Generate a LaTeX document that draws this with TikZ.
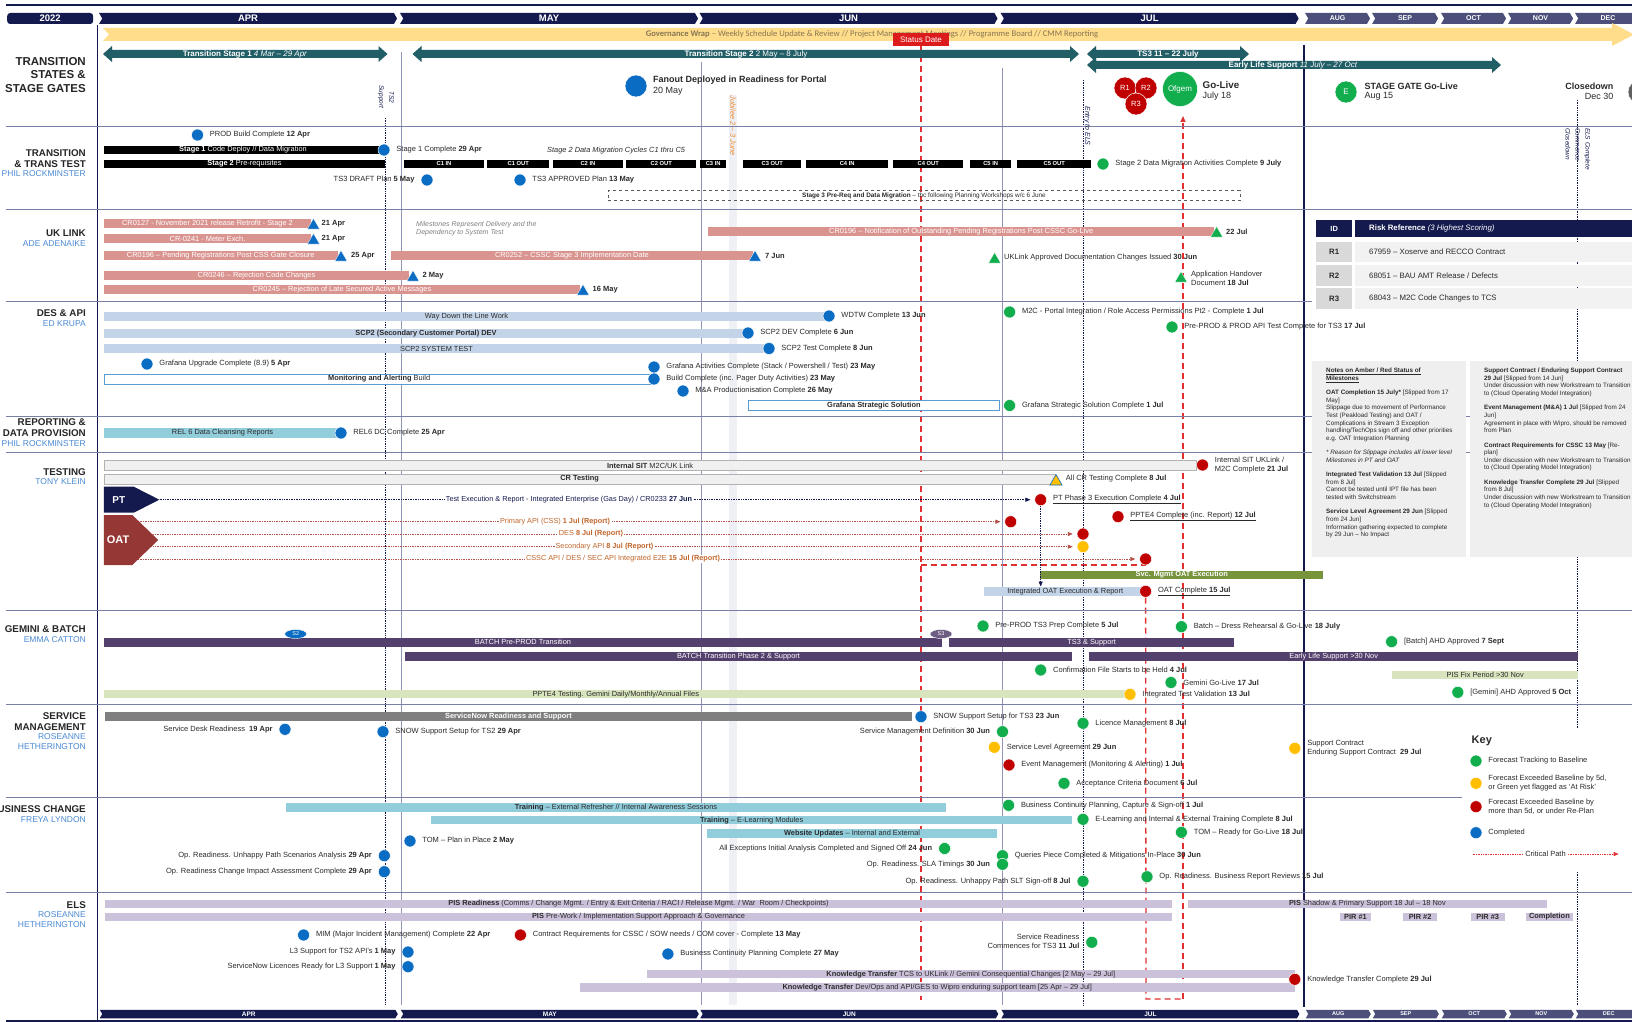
\documentclass[tikz,border=0pt]{standalone}
\usepackage{fontspec}
\setmainfont{Liberation Sans}
\newfontfamily\carl{Carlito}
\usetikzlibrary{shapes.geometric,shapes.symbols,arrows.meta,calc}
\pgfdeclarelayer{bg}\pgfdeclarelayer{back}\pgfsetlayers{bg,back,main}
\definecolor{navyc}{HTML}{141A4E}
\definecolor{slatec}{HTML}{4B4F7A}
\definecolor{gridc}{HTML}{9094B8}
\definecolor{sepc}{HTML}{7A7FA8}
\definecolor{tealc}{HTML}{215E66}
\definecolor{govc}{HTML}{FFDD8A}
\definecolor{govt}{HTML}{857552}
\definecolor{salmon}{HTML}{DA9490}
\definecolor{bluem}{HTML}{0A6CC2}
\definecolor{greenm}{HTML}{12AE4E}
\definecolor{amberm}{HTML}{FFBF00}
\definecolor{redm}{HTML}{C00000}
\definecolor{lblue}{HTML}{C3D3E8}
\definecolor{outblue}{HTML}{5B9BD5}
\definecolor{tealbar}{HTML}{92CDDC}
\definecolor{purp}{HTML}{53406C}
\definecolor{lgreen}{HTML}{D7E4BD}
\definecolor{lav}{HTML}{CCC1DA}
\definecolor{grayb}{HTML}{7F7F7F}
\definecolor{olive}{HTML}{77933C}
\definecolor{personc}{HTML}{4A8AD4}
\definecolor{orangt}{HTML}{C0652A}
\definecolor{jubt}{HTML}{EE8A2E}
\definecolor{oatc}{HTML}{953735}
\definecolor{oatl}{HTML}{B5504A}
\definecolor{statusc}{HTML}{DC1C1C}
\definecolor{critred}{HTML}{E03030}
\definecolor{txtc}{HTML}{2A2A2A}
\definecolor{notebg}{HTML}{EFEFEF}
\definecolor{sitgray}{HTML}{F0F0F0}
\definecolor{jubc}{HTML}{EEF0F5}
\definecolor{idgray}{HTML}{D9D9D9}
\definecolor{rowgray}{HTML}{F2F2F2}
\newcommand\mybar[7]{\node[barb,#1,minimum width={(#3)-(#2)},minimum height={(#5)-(#4)}] (#6) at (#2,{((#4)+(#5))/2}) {#7};}
\newcommand\mkr[5]{\node[mc,fill=#2] (#1) at (#3,#4) {};\node[mt,anchor=west] (#1t) at ([xshift=6pt]#1.east) {#5};}
\newcommand\mkl[5]{\node[mc,fill=#2] (#1) at (#3,#4) {};\node[mt,anchor=east] (#1t) at ([xshift=-6pt]#1.west) {#5};}
\newcommand\mytri[4]{\node[tri,fill=#2] (#1) at (#3,{(#4)-3.5}) {};}
\newcommand\dblarr[3]{\fill[tealc] (#1,#3) -- ({#1+9},{#3-8}) -- ({#1+9},{#3-4}) -- ({#2-9},{#3-4}) -- ({#2-9},{#3-8}) -- (#2,#3) -- ({#2-9},{#3+8}) -- ({#2-9},{#3+4}) -- ({#1+9},{#3+4}) -- ({#1+9},{#3+8}) -- cycle;}
\begin{document}
\begin{tikzpicture}[x=1pt,y=-1pt,
 mt/.style={font=\fontsize{7.5}{8.6}\selectfont, text=txtc, inner sep=0pt, align=left},
 mc/.style={circle, minimum size=12pt, inner sep=0pt, draw=white, line width=0.5pt},
 barb/.style={rectangle, inner sep=0pt, anchor=west, font=\fontsize{7.4}{8}\selectfont},
 blk/.style={fill=black, text=white},
 cyc/.style={fill=black, text=white, font=\bfseries\fontsize{5.8}{6}\selectfont},
 sal/.style={fill=salmon, text=white},
 lb/.style={fill=lblue, text=txtc},
 tb/.style={fill=tealbar, text=txtc},
 pb/.style={fill=purp, text=white},
 lgb/.style={fill=lgreen, text=txtc},
 lavb/.style={fill=lav, text=txtc},
 gb/.style={fill=grayb, text=white},
 olb/.style={fill=olive, text=white, font=\bfseries\fontsize{7.4}{8}\selectfont},
 outl/.style={fill=white, draw=outblue, line width=0.8pt, text=txtc},
 sit/.style={fill=sitgray, draw=gray!60, line width=0.6pt, text=txtc},
 tri/.style={regular polygon, regular polygon sides=3, minimum size=14pt, inner sep=0pt, draw=white, line width=0.3pt},
 gridl/.style={draw=gridc, line width=0.8pt},
 sepl/.style={draw=sepc, line width=0.9pt},
 vdot/.style={draw=navyc, densely dotted, line width=0.7pt},
 crit/.style={draw=critred, line width=1.3pt, dash pattern=on 6pt off 4pt},
 rl/.style={font=\bfseries\fontsize{9.8}{11}\selectfont, anchor=east, inner sep=0pt, text=black!85},
 pl/.style={font=\fontsize{8.5}{10}\selectfont, anchor=east, inner sep=0pt, text=personc},
 arrt/.style={font=\bfseries\fontsize{8}{9}\selectfont, text=white, inner sep=0pt},
 mon/.style={signal, signal to=east, signal from=west, signal pointer angle=120, inner sep=0pt, text=white, font=\bfseries\fontsize{9.5}{10}\selectfont, anchor=west},
 monb/.style={mon, font=\bfseries\fontsize{6.5}{7}\selectfont},
 ptline/.style={draw=navyc, densely dotted, line width=0.7pt, -{Triangle[length=5pt,width=4pt]}},
 oatline/.style={draw=oatl, densely dotted, line width=0.7pt, -{Triangle[length=5pt,width=4pt]}},
 oatlbl/.style={fill=white, inner xsep=1pt, inner ysep=0.5pt, font=\fontsize{7.3}{8}\selectfont, text=orangt},
 notes/.style={font=\fontsize{6.3}{7.6}\selectfont, text=txtc, align=left, inner sep=0pt, anchor=north west},
 rott/.style={rotate=-90, inner sep=0pt, text=navyc, font=\itshape\fontsize{6.5}{10}\selectfont}
]
\useasboundingbox (0,0) rectangle (1632,1022);
\begin{pgfonlayer}{bg}
\fill[white] (0,0) rectangle (1632,1022);
\fill[jubc] (729,95) rectangle (737,1005);
\end{pgfonlayer}

% ---------- frame lines ----------
\draw[navyc, line width=2pt] (6,5) -- (1632,5);
\draw[navyc, line width=2pt] (6,1021) -- (1632,1021);
\draw[navyc, line width=0.8pt] (97.5,25) -- (97.5,1022);
\draw[gridl] (401,52) -- (401,1005);
\draw[gridl] (701,62) -- (701,1005);
\draw[gridl] (1002,68) -- (1002,1005);
\draw[vdot] (385,118) -- (385,1005);
\draw[vdot] (1083,80) -- (1083,1005);
\draw[vdot] (1577,100) -- (1577,1005);
\draw[navyc, line width=2.2pt] (1304,45) -- (1304,1007);
\foreach \yy in {126,209,416,452,610,704,892} {\draw[sepl] (6,\yy) -- (1632,\yy);}
\draw[sepl] (6,301) -- (1312,301);
\draw[sepl] (6,797) -- (1462,797);

% ---------- month headers ----------
\node[fill=navyc, rounded corners=3pt, minimum width=86pt, minimum height=11pt, inner sep=0pt, anchor=west, text=white, font=\bfseries\fontsize{9.5}{10}\selectfont] (y2022) at (7,18.5) {2022};
\node[mon, fill=navyc, minimum width=298pt, minimum height=11pt] (mapr) at (102,18.5) {APR};
\node[mon, fill=navyc, minimum width=298pt, minimum height=11pt] (mmay) at (403,18.5) {MAY};
\node[mon, fill=navyc, minimum width=298pt, minimum height=11pt] (mjun) at (702.5,18.5) {JUN};
\node[mon, fill=navyc, minimum width=298pt, minimum height=11pt] (mjul) at (1003.6,18.5) {JUL};
\node[mon, fill=slatec, minimum width=65pt, minimum height=11pt, font=\bfseries\fontsize{7}{8}\selectfont] (maug) at (1308,18.5) {AUG};
\node[mon, fill=slatec, minimum width=66pt, minimum height=11pt, font=\bfseries\fontsize{7}{8}\selectfont] (msep) at (1375,18.5) {SEP};
\node[mon, fill=slatec, minimum width=65pt, minimum height=11pt, font=\bfseries\fontsize{7}{8}\selectfont] (moct) at (1444,18.5) {OCT};
\node[mon, fill=slatec, minimum width=65pt, minimum height=11pt, font=\bfseries\fontsize{7}{8}\selectfont] (mnov) at (1511,18.5) {NOV};
\node[mon, fill=slatec, minimum width=66pt, minimum height=11pt, font=\bfseries\fontsize{7}{8}\selectfont] (mdec) at (1578,18.5) {DEC};
\node[monb, fill=navyc, minimum width=298pt, minimum height=8.5pt] (bapr) at (102,1014) {APR};
\node[monb, fill=navyc, minimum width=298pt, minimum height=8.5pt] (bmay) at (403,1014) {MAY};
\node[monb, fill=navyc, minimum width=298pt, minimum height=8.5pt] (bjun) at (702.5,1014) {JUN};
\node[monb, fill=navyc, minimum width=298pt, minimum height=8.5pt] (bjul) at (1003.6,1014) {JUL};
\node[monb, fill=slatec, minimum width=65pt, minimum height=8.5pt, font=\bfseries\fontsize{5.5}{6}\selectfont] (baug) at (1308,1014) {AUG};
\node[monb, fill=slatec, minimum width=66pt, minimum height=8.5pt, font=\bfseries\fontsize{5.5}{6}\selectfont] (bsep) at (1375,1014) {SEP};
\node[monb, fill=slatec, minimum width=65pt, minimum height=8.5pt, font=\bfseries\fontsize{5.5}{6}\selectfont] (boct) at (1444,1014) {OCT};
\node[monb, fill=slatec, minimum width=65pt, minimum height=8.5pt, font=\bfseries\fontsize{5.5}{6}\selectfont] (bnov) at (1511,1014) {NOV};
\node[monb, fill=slatec, minimum width=66pt, minimum height=8.5pt, font=\bfseries\fontsize{5.5}{6}\selectfont] (bdec) at (1578,1014) {DEC};

% ---------- row labels ----------
\node[rl, font=\bfseries\fontsize{11.5}{13}\selectfont] (l1a) at (86,62) {TRANSITION};
\node[rl, font=\bfseries\fontsize{11.5}{13}\selectfont] (l1b) at (86,75) {STATES \&};
\node[rl, font=\bfseries\fontsize{11.5}{13}\selectfont] (l1c) at (86,89) {STAGE GATES};
\node[rl] (l2a) at (86,153) {TRANSITION};
\node[rl] (l2b) at (86,164) {\& TRANS TEST};
\node[pl] (l2c) at (86,174) {PHIL ROCKMINSTER};
\node[rl] (l3a) at (86,233.5) {UK LINK};
\node[pl] (l3b) at (86,244) {ADE ADENAIKE};
\node[rl] (l4a) at (86,313) {DES \& API};
\node[pl] (l4b) at (86,324) {ED KRUPA};
\node[rl] (l5a) at (86,422) {REPORTING \&};
\node[rl] (l5b) at (86,433) {DATA PROVISION};
\node[pl] (l5c) at (86,444) {PHIL ROCKMINSTER};
\node[rl] (l6a) at (86,472) {TESTING};
\node[pl] (l6b) at (86,482) {TONY KLEIN};
\node[rl] (l7a) at (86,629) {GEMINI \& BATCH};
\node[pl] (l7b) at (86,640) {EMMA CATTON};
\node[rl] (l8a) at (86,716) {SERVICE};
\node[rl] (l8b) at (86,727) {MANAGEMENT};
\node[pl] (l8c) at (86,737) {ROSEANNE};
\node[pl] (l8d) at (86,747) {HETHERINGTON};
\node[rl] (l9a) at (86,809) {BUSINESS CHANGE};
\node[pl] (l9b) at (86,820) {FREYA LYNDON};
\node[rl] (l10a) at (86,905) {ELS};
\node[pl] (l10b) at (86,915) {ROSEANNE};
\node[pl] (l10c) at (86,925) {HETHERINGTON};

% ---------- row 1 : transition states ----------
\fill[govc] (103,28) -- (1612,28) -- (1612,23) -- (1634,34.5) -- (1612,46) -- (1612,41) -- (103,41) -- (109,34.5) -- cycle;
\node[font=\carl\fontsize{8.6}{9}\selectfont, text=govt, inner sep=0pt] (gov) at (872,34.5) {\textbf{Governance Wrap} – Weekly Schedule Update \& Review // Project Management Meetings // Programme Board // CMM Reporting};
\node[fill=statusc, text=white, font=\fontsize{8}{9}\selectfont, minimum width=56pt, minimum height=13pt, inner sep=0pt] (status) at (921,39.5) {Status Date};
\dblarr{103}{387.5}{54}
\dblarr{412.5}{1079}{54}
\dblarr{1087}{1501}{65}
\dblarr{1087}{1249}{54}
\node[arrt] (ts1) at (245,54) {Transition Stage 1 \textit{\mdseries 4 Mar – 29 Apr}};
\node[arrt] (ts2) at (746,54) {Transition Stage 2 \mdseries 2 May – 8 July};
\node[arrt] (ts3) at (1168,54) {TS3 11 – 22 July};
\node[arrt] (elsa) at (1293,65) {Early Life Support \textit{\mdseries 11 July – 27 Oct}};
\node[mc, fill=bluem, minimum size=22pt] (fan) at (636,86) {};
\node[inner sep=0pt, anchor=west, font=\bfseries\fontsize{9}{10}\selectfont, text=txtc] (fant) at (653,80.5) {Fanout Deployed in Readiness for Portal};
\node[inner sep=0pt, anchor=west, font=\fontsize{9}{10}\selectfont, text=txtc] (fand) at (653,91) {20 May};
\node[rotate=-90, inner sep=0pt, text=jubt, font=\itshape\fontsize{7.4}{8}\selectfont] (jub) at (733,126) {Jubilee 2 – 3 June};
\node[rott, align=center] (ts2s) at (386,97) {TS2\\Support};
\node[rott, font=\itshape\fontsize{7}{8}\selectfont] (entry) at (1087,126) {Entry to ELS};
\node[rott, align=left] (elsc) at (1578,149) {ELS Complete\\Commence\\Closedown};
\node[mc, fill=redm, minimum size=22pt, text=white, font=\fontsize{7.5}{8}\selectfont] (r1) at (1125,88) {R1};
\node[mc, fill=redm, minimum size=22pt, text=white, font=\fontsize{7.5}{8}\selectfont] (r2) at (1146,88) {R2};
\node[mc, fill=redm, minimum size=22pt, text=white, font=\fontsize{7.5}{8}\selectfont] (r3) at (1136,104) {R3};
\node[mc, fill=greenm, minimum size=35pt, text=white, font=\fontsize{8}{9}\selectfont] (ofgem) at (1180,89) {Ofgem};
\node[inner sep=0pt, anchor=west, font=\bfseries\fontsize{9.8}{11}\selectfont, text=txtc] (golive) at (1202.5,85) {Go-Live};
\node[inner sep=0pt, anchor=west, font=\fontsize{9}{10}\selectfont, text=txtc] (golived) at (1202.5,96) {July 18};
\node[mc, fill=greenm, minimum size=22pt, text=white, font=\fontsize{8}{9}\selectfont] (egate) at (1346,92) {E};
\node[inner sep=0pt, anchor=west, font=\bfseries\fontsize{9}{10}\selectfont, text=txtc] (sgate) at (1364.5,86) {STAGE GATE Go-Live};
\node[inner sep=0pt, anchor=west, font=\fontsize{9}{10}\selectfont, text=txtc] (sgated) at (1364.5,96) {Aug 15};
\node[inner sep=0pt, anchor=east, font=\bfseries\fontsize{9}{10}\selectfont, text=txtc] (clos) at (1613.5,86) {Closedown};
\node[inner sep=0pt, anchor=east, font=\fontsize{9}{10}\selectfont, text=txtc] (closd) at (1613.5,96) {Dec 30};
\node[mc, fill=gray!75!black, minimum size=24pt, text=white, font=\fontsize{8}{9}\selectfont] (fgate) at (1640,92) {F};

% ---------- row 2 : transition & trans test ----------
\mkr{prod}{bluem}{197.5}{135}{PROD Build Complete \textbf{12 Apr}}
\mybar{blk}{103.6}{382}{146}{154}{s1bar}{\textbf{Stage 1} Code Deploy // Data Migration}
\mkr{s1c}{bluem}{384}{150}{Stage 1 Complete \textbf{29 Apr}}
\mybar{blk}{103.6}{385}{160}{168}{s2bar}{\textbf{Stage 2} Pre-requisites}
\mybar{cyc}{403.6}{484}{160}{168}{c1in}{C1 IN}
\mybar{cyc}{487}{549}{160}{168}{c1out}{C1 OUT}
\mybar{cyc}{552.5}{623}{160}{168}{c2in}{C2 IN}
\mybar{cyc}{626}{696}{160}{168}{c2out}{C2 OUT}
\mybar{cyc}{700}{726}{160}{168}{c3in}{C3 IN}
\mybar{cyc}{743}{801}{160}{168}{c3out}{C3 OUT}
\mybar{cyc}{806}{888}{160}{168}{c4in}{C4 IN}
\mybar{cyc}{893}{963}{160}{168}{c4out}{C4 OUT}
\mybar{cyc}{970}{1011}{160}{168}{c5in}{C5 IN}
\mybar{cyc}{1017}{1091}{160}{168}{c5out}{C5 OUT}
\node[mt, anchor=west, font=\itshape\fontsize{7.4}{8}\selectfont] (s2dm) at (547,151) {Stage 2 Data Migration Cycles C1 thru C5};
\mkr{s2c}{greenm}{1103}{164}{Stage 2 Data Migration Activities Complete \textbf{9 July}}
\mkl{ts3d}{bluem}{427}{180}{TS3 DRAFT Plan \textbf{5 May}}
\mkr{ts3a}{bluem}{520}{180}{TS3 APPROVED Plan \textbf{13 May}}
\node[draw=gray!70!black, dashed, line width=0.6pt, minimum width=632pt, minimum height=10pt, anchor=west, inner sep=0pt] (s3box) at (608,195.5) {};
\node[mt, font=\fontsize{6.4}{7}\selectfont] (s3t) at (924,195.5) {\textbf{Stage 3 Pre-Req and Data Migration} – tbc following Planning Workshops w/c 6 June};

% ---------- row 3 : UK link ----------
\mybar{sal}{103.6}{311}{219}{228}{cr0127}{CR0127 - November 2021 release Retrofit - Stage 2}
\mytri{t1}{bluem}{313.5}{229}
\node[mt, anchor=west, font=\bfseries\fontsize{7.5}{8}\selectfont] (t1t) at (321.5,224) {21 Apr};
\mybar{sal}{103.6}{311}{234}{243}{cr0241}{CR-0241 - Meter Exch.}
\mytri{t2}{bluem}{313.5}{244}
\node[mt, anchor=west, font=\bfseries\fontsize{7.5}{8}\selectfont] (t2t) at (321.5,239) {21 Apr};
\mybar{sal}{103.6}{337.5}{251}{260}{cr0196a}{CR0196 –  Pending Registrations Post CSS Gate Closure}
\mytri{t3}{bluem}{341}{261}
\node[mt, anchor=west, font=\bfseries\fontsize{7.5}{8}\selectfont] (t3t) at (351,256) {25 Apr};
\mybar{sal}{391}{752.5}{251}{260}{cr0252}{CR0252 – CSSC Stage 3 Implementation Date}
\mytri{t4}{bluem}{755}{261}
\node[mt, anchor=west, font=\bfseries\fontsize{7.5}{8}\selectfont] (t4t) at (765,256) {7 Jun};
\mybar{sal}{103.6}{409}{271}{280}{cr0246}{CR0246 – Rejection Code Changes}
\mytri{t5}{bluem}{413}{281}
\node[mt, anchor=west, font=\bfseries\fontsize{7.5}{8}\selectfont] (t5t) at (422.5,276) {2 May};
\mybar{sal}{103.6}{580}{285}{294}{cr0245}{CR0245 – Rejection of Late Secured Active Messages}
\mytri{t6}{bluem}{583}{295}
\node[mt, anchor=west, font=\bfseries\fontsize{7.5}{8}\selectfont] (t6t) at (592.5,290) {16 May};
\mybar{sal}{708}{1214}{227}{236}{cr0196b}{CR0196 – Notification of Outstanding Pending Registrations Post CSSC Go-Live}
\mytri{t7}{greenm}{1216.6}{237}
\node[mt, anchor=west, font=\bfseries\fontsize{7.5}{8}\selectfont] (t7t) at (1226,231.5) {22 Jul};
\node[mt, anchor=west, text=gray, font=\itshape\fontsize{7}{8.4}\selectfont] (msnote) at (416,228.5) {Milestones Represent Delivery and the\\Dependency to System Test};
\mytri{t8}{greenm}{994.6}{263}
\node[mt, anchor=west] (t8t) at (1004,257.5) {UKLink Approved Documentation Changes Issued \textbf{30 Jun}};
\mytri{t9}{greenm}{1181}{282}
\node[mt, anchor=west] (t9t) at (1191,278.5) {Application Handover\\Document \textbf{18 Jul}};
% risk table
\node[fill=navyc, text=white, minimum width=36pt, minimum height=17pt, inner sep=0pt, anchor=west, font=\bfseries\fontsize{7.5}{9}\selectfont] (rid) at (1316,228.5) {ID};
\node[fill=navyc, minimum width=278pt, minimum height=17pt, inner sep=0pt, anchor=west] (rref) at (1354.6,228.5) {};
\node[inner sep=0pt, anchor=west, text=white, font=\fontsize{7.8}{9}\selectfont] (rreft) at (1369,228.5) {\textbf{Risk Reference} \textit{(3 Highest Scoring)}};
\node[fill=idgray, minimum width=36pt, minimum height=20pt, inner sep=0pt, anchor=west, font=\bfseries\fontsize{7.8}{9}\selectfont, text=txtc] (rid1) at (1316,252) {R1};
\node[fill=rowgray, minimum width=278pt, minimum height=20pt, inner sep=0pt, anchor=west] (rrow1) at (1354.6,252) {};
\node[mt, anchor=west, font=\fontsize{7.8}{9}\selectfont] (rtx1) at (1369,252) {67959 – Xoserve and RECCO Contract};
\node[fill=idgray, minimum width=36pt, minimum height=21pt, inner sep=0pt, anchor=west, font=\bfseries\fontsize{7.8}{9}\selectfont, text=txtc] (rid2) at (1316,275.5) {R2};
\node[fill=rowgray, minimum width=278pt, minimum height=21pt, inner sep=0pt, anchor=west] (rrow2) at (1354.6,275.5) {};
\node[mt, anchor=west, font=\fontsize{7.8}{9}\selectfont] (rtx2) at (1369,275.5) {68051 – BAU AMT Release / Defects};
\node[fill=idgray, minimum width=36pt, minimum height=21pt, inner sep=0pt, anchor=west, font=\bfseries\fontsize{7.8}{9}\selectfont, text=txtc] (rid3) at (1316,298.5) {R3};
\node[fill=rowgray, minimum width=278pt, minimum height=21pt, inner sep=0pt, anchor=west] (rrow3) at (1354.6,298.5) {};
\node[mt, anchor=west, font=\fontsize{7.8}{9}\selectfont] (rtx3) at (1369,298.5) {68043 – M2C Code Changes to TCS};

% ---------- row 4 : DES & API ----------
\mybar{lb}{103.6}{829}{311.7}{320.7}{wdtw}{Way Down the Line Work}
\mkr{wdtwc}{bluem}{829}{316}{WDTW Complete \textbf{13 Jun}}
\mybar{lb}{103.6}{748}{329}{337.5}{scpdev}{\textbf{SCP2 (Secondary Customer Portal) DEV}}
\mkr{scpdevc}{bluem}{748}{333}{SCP2 DEV Complete \textbf{6 Jun}}
\mybar{lb}{103.6}{769}{344}{353}{scpst}{SCP2 SYSTEM TEST}
\mkr{scpstc}{bluem}{769}{348.5}{SCP2 Test Complete \textbf{8 Jun}}
\mkr{graf}{bluem}{147}{364}{Grafana Upgrade Complete (8.9) \textbf{5 Apr}}
\mybar{outl}{103.6}{654}{374}{384}{mon}{\textbf{Monitoring and Alerting} Build}
\mkr{grafa}{bluem}{654}{367}{Grafana Activities Complete (Stack / Powershell / Test) \textbf{23 May}}
\mkr{buildc}{bluem}{654}{379}{Build Complete (inc. Pager Duty Activities) \textbf{23 May}}
\mkr{mna}{bluem}{683}{391}{M\&A Productionisation Complete \textbf{26 May}}
\mybar{outl}{748}{999}{400.7}{410}{gss}{\textbf{Grafana Strategic Solution}}
\mkr{gssc}{greenm}{1009.6}{405.5}{Grafana Strategic Solution Complete \textbf{1 Jul}}
\mkr{m2c}{greenm}{1009.6}{312}{M2C - Portal Integration / Role Access Permissions Pt2 - Complete \textbf{1 Jul}}
\mkr{ppapi}{greenm}{1172}{327}{Pre-PROD \& PROD API Test Complete for TS3 \textbf{17 Jul}}

% ---------- row 5 : reporting ----------
\mybar{tb}{103.6}{341}{428}{437.7}{rel6}{REL 6 Data Cleansing Reports}
\mkr{rel6c}{bluem}{341}{433}{REL6 DC Complete \textbf{25 Apr}}

% ---------- notes panels ----------
\node[fill=notebg, minimum width=154pt, minimum height=196pt, anchor=north west, inner sep=0pt] (np1) at (1312,361) {};
\node[notes] (np1t) at (1326,368) {\underline{\textbf{Notes on Amber / Red Status of}}\\\underline{\textbf{Milestones}}\\[6.8pt]
\textbf{OAT Completion 15 July*} [Slipped from 17\\May]\\Slippage due to movement of Performance\\Test (Peakload Testing) and OAT /\\Complications in Stream 3 Exception\\handling/TechOps sign off and other priorities\\e.g. OAT Integration Planning\\[6.8pt]
\textit{* Reason for Slippage includes all lower level}\\\textit{Milestones in PT and OAT}\\[6.8pt]
\textbf{Integrated Test Validation 13 Jul} [Slipped\\from 8 Jul]\\Cannot be tested until IPT file has been\\tested with Switchstream\\[6.8pt]
\textbf{Service Level Agreement 29 Jun} [Slipped\\from 24 Jun]\\Information gathering expected to complete\\by 29 Jun – No Impact};
\node[fill=notebg, minimum width=170pt, minimum height=196pt, anchor=north west, inner sep=0pt] (np2) at (1470,361) {};
\node[notes] (np2t) at (1484,368) {\textbf{Support Contract / Enduring Support Contract}\\\textbf{29 Jul} [Slipped from 14 Jun]\\Under discussion with new Workstream to Transition\\to (Cloud Operating Model Integration)\\[6.8pt]
\textbf{Event Management (M\&A) 1 Jul} [Slipped from 24\\Jun]\\Agreement in place with Wipro, should be removed\\from Plan\\[6.8pt]
\textbf{Contract Requirements for CSSC 13 May} [Re-\\plan]\\Under discussion with new Workstream to Transition\\to (Cloud Operating Model Integration)\\[6.8pt]
\textbf{Knowledge Transfer Complete 29 Jul} [Slipped\\from 8 Jul]\\Under discussion with new Workstream to Transition\\to (Cloud Operating Model Integration)};

% ---------- row 6 : testing ----------
\mybar{sit}{103.6}{1196}{460.7}{470.7}{sitb}{\textbf{Internal SIT} M2C/UK Link}
\mkr{sitc}{redm}{1202.5}{465}{Internal SIT UKLink /\\M2C Complete \textbf{21 Jul}}
\mybar{sit}{103.6}{1055}{474}{484}{crt}{\textbf{CR Testing}}
\node[tri, fill=amberm, draw=bluem, line width=0.6pt] (crtri) at (1056,481.5) {};
\node[mt, anchor=west] (crtrit) at (1065.7,479) {All CR Testing Complete \textbf{8 Jul}};
\node[signal, signal to=east, signal pointer angle=54, fill=navyc, minimum width=55.5pt, minimum height=26pt, inner sep=0pt, anchor=west, text=white, font=\bfseries\fontsize{10}{11}\selectfont] (pt) at (103.6,499.7) {PT};
\mkr{ptc}{redm}{1040.7}{499.7}{\underline{PT Phase 3 Execution Complete \textbf{4 Jul}}}
\mkr{ppte4}{redm}{1118}{516.7}{\underline{PPTE4 Complete (inc. Report) \textbf{12 Jul}}}
\node[mc, fill=redm] (oac) at (1010.7,521.7) {};
\node[mc, fill=redm] (obc) at (1083,534) {};
\node[mc, fill=amberm] (occ) at (1083,546.7) {};
\node[mc, fill=redm] (odc) at (1145.6,559) {};
\draw[ptline, shorten >=4pt] (pt.east) -- (ptc);
\node[fill=white, inner xsep=1pt, inner ysep=0.5pt, font=\fontsize{7.3}{8}\selectfont, text=navyc] (ptl) at (569,499.7) {Test Execution \& Report - Integrated Enterprise (Gas Day) / CR0233 \textbf{27 Jun}};
\coordinate (oa) at (131,521.7);
\coordinate (ob) at (131,534);
\coordinate (oc) at (131,546.7);
\coordinate (od) at (131,559);
\draw[oatline, shorten >=4pt] (oa) -- (oac);
\draw[oatline, shorten >=4pt] (ob) -- (obc);
\draw[oatline, shorten >=4pt] (oc) -- (occ);
\draw[oatline, shorten >=4pt] (od) -- (odc);
\node[oatlbl] (oal) at (555,521.7) {Primary API (CSS) \textbf{1 Jul (Report)}};
\node[oatlbl] (obl) at (591,534) {DES \textbf{8 Jul (Report)}};
\node[oatlbl] (ocl) at (604.5,546.7) {Secondary API \textbf{8 Jul (Report)}};
\node[oatlbl] (odl) at (623,559) {CSSC API / DES / SEC API Integrated E2E \textbf{15 Jul (Report)}};
\node[signal, signal to=east, signal pointer angle=88, fill=oatc, minimum width=54.4pt, minimum height=50pt, inner sep=0pt, anchor=west, text=white, font=\bfseries\fontsize{11}{12}\selectfont] (oat) at (103.6,540) {OAT};
\mybar{olb}{1040}{1323}{570.7}{579}{svc}{Svc. Mgmt OAT Execution}
\mybar{lb}{984}{1146}{586.7}{596}{ioat}{Integrated OAT Execution \& Report}
\mkr{oatcm}{redm}{1145.6}{591.3}{\underline{OAT Complete \textbf{15 Jul}}}
\draw[ptline] (ptc.south) -- (ptc.south |- ioat.north);

% ---------- row 7 : gemini & batch ----------
\mybar{pb}{103.6}{942}{637.7}{646.7}{bpp}{BATCH Pre-PROD Transition}
\mybar{pb}{949}{1234}{637.7}{646.7}{ts3sup}{TS3 \& Support}
\node[ellipse, fill=bluem, draw=white, line width=0.4pt, minimum width=22pt, minimum height=9pt, inner sep=0pt, text=white, font=\fontsize{5.5}{6}\selectfont] (s2) at (295.7,634) {S2};
\node[ellipse, fill=purp!85!white, draw=white, line width=0.4pt, minimum width=22pt, minimum height=9pt, inner sep=0pt, text=white, font=\fontsize{5.5}{6}\selectfont] (s3) at (941,634) {S3};
\mybar{pb}{404.6}{1072}{651.7}{660.7}{btp2}{BATCH Transition Phase 2 \& Support}
\mybar{pb}{1089}{1578}{651.7}{660.7}{elsbar}{Early Life Support >30 Nov}
\mkr{pts3}{greenm}{983}{626}{Pre-PROD TS3 Prep Complete \textbf{5 Jul}}
\mkr{bdr}{greenm}{1181.4}{626.7}{Batch – Dress Rehearsal \& Go-Live \textbf{18 July}}
\mkr{ahd}{greenm}{1391.6}{641.7}{[Batch] AHD Approved \textbf{7 Sept}}
\mkr{conf}{greenm}{1040.7}{670}{Confirmation File Starts to be Held \textbf{4 Jul}}
\mkr{gem}{greenm}{1171}{682.5}{Gemini Go-Live \textbf{17 Jul}}
\mybar{lgb}{1392}{1578}{671}{679.3}{pisfix}{PIS Fix Period >30 Nov}
\mybar{lgb}{103.6}{1127.5}{690}{698.3}{ppte4t}{PPTE4 Testing. Gemini Daily/Monthly/Annual Files}
\mkr{itv}{amberm}{1130}{694.3}{Integrated Test Validation \textbf{13 Jul}}
\mkr{gahd}{greenm}{1457.8}{692.3}{[Gemini] AHD Approved \textbf{5 Oct}}

% ---------- row 8 : service management ----------
\mybar{gb}{104.6}{912}{712.3}{721}{snow}{\textbf{ServiceNow Readiness and Support}}
\mkr{snow3}{bluem}{921}{716.7}{SNOW Support Setup for TS3 \textbf{23 Jun}}
\mkl{sdr}{bluem}{285}{729.3}{Service Desk Readiness~~\textbf{19 Apr}}
\mkr{snow2}{bluem}{383}{731.7}{SNOW Support Setup for TS2 \textbf{29 Apr}}
\mkr{lic}{greenm}{1083}{723.3}{Licence Management \textbf{8 Jul}}
\mkl{smd}{greenm}{1002.5}{731.7}{Service Management Definition \textbf{30 Jun}}
\mkr{sla}{amberm}{994.3}{747.3}{Service Level Agreement \textbf{29 Jun}}
\mkr{evm}{redm}{1009}{765}{Event Management (Monitoring \& Alerting) \textbf{1 Jul}}
\mkr{acd}{greenm}{1064}{783.3}{Acceptance Criteria Document \textbf{6 Jul}}
\mkr{supc}{amberm}{1294.8}{748.3}{Support Contract\\Enduring Support Contract~~\textbf{29 Jul}}
% key
\node[fill=white, minimum width=170pt, minimum height=142pt, anchor=north west, inner sep=0pt] (keybg) at (1462,729) {};
\node[inner sep=0pt, anchor=west, font=\bfseries\fontsize{11}{12}\selectfont, text=txtc] (keyt) at (1471.5,741) {Key};
\mkr{k1}{greenm}{1476}{761}{Forecast Tracking to Baseline}
\mkr{k2}{amberm}{1476}{783.3}{Forecast Exceeded Baseline by 5d,\\or Green yet flagged as ‘At Risk’}
\mkr{k3}{redm}{1476}{806.7}{Forecast Exceeded Baseline by\\more than 5d, or under Re-Plan}
\mkr{k4}{bluem}{1476}{832.7}{Completed}
\coordinate (cp1) at (1472.6,854);
\coordinate (cp2) at (1618.7,854);
\draw[oatline, draw=critred] (cp1) -- (cp2);
\node[fill=white, mt, inner xsep=1pt] (cpl) at (1545.5,854) {Critical Path};

% ---------- row 9 : business change ----------
\mybar{tb}{285.7}{946}{803.3}{811.7}{trext}{\textbf{Training} – External Refresher // Internal Awareness Sessions}
\mybar{tb}{431}{1072}{816}{824.3}{trel}{\textbf{Training} – E-Learning Modules}
\mybar{tb}{706.8}{997}{829.3}{837.7}{web}{\textbf{Website Updates} – Internal and External}
\mkr{bcp}{greenm}{1008.6}{805.3}{Business Continuity Planning, Capture \& Sign-off \textbf{1 Jul}}
\mkr{elc}{greenm}{1083}{819.3}{E-Learning and Internal \& External Training Complete \textbf{8 Jul}}
\mkr{tomr}{greenm}{1181.4}{832.3}{TOM – Ready for Go-Live \textbf{18 Jul}}
\mkr{tomp}{bluem}{410}{841}{TOM – Plan in Place \textbf{2 May}}
\mkl{opu}{bluem}{384.3}{855.7}{Op. Readiness. Unhappy Path Scenarios Analysis \textbf{29 Apr}}
\mkl{opc}{bluem}{384.3}{871.7}{Op. Readiness Change Impact Assessment Complete \textbf{29 Apr}}
\mkl{aex}{greenm}{944.6}{848.5}{All Exceptions Initial Analysis Completed and Signed Off \textbf{24 Jun}}
\mkr{qpc}{greenm}{1002.5}{855.7}{Queries Piece Completed \& Mitigations In-Place \textbf{30 Jun}}
\mkl{slat}{greenm}{1002.5}{864.3}{Op. Readiness. SLA Timings \textbf{30 Jun}}
\mkl{slt}{greenm}{1083}{881.3}{Op. Readiness. Unhappy Path SLT Sign-off \textbf{8 Jul}}
\mkr{brr}{greenm}{1147}{876.7}{Op. Readiness. Business Report Reviews \textbf{15 Jul}}

% ---------- row 10 : ELS ----------
\mybar{lavb}{104.6}{1172}{900}{908}{pisr}{\textbf{PIS Readiness} (Comms / Change Mgmt. / Entry \& Exit Criteria / RACI / Release Mgmt. / War~ Room / Checkpoints)}
\mybar{lavb}{104.6}{1172}{912.7}{921}{pisp}{\textbf{PIS} Pre-Work / Implementation Support Approach \& Governance}
\mybar{lavb}{1187.4}{1547}{900}{908}{piss}{\textbf{PIS} Shadow \& Primary Support 18 Jul – 18 Nov}
\mybar{lavb}{1340}{1370.5}{912.7}{920.7}{pir1}{\textbf{PIR \#1}}
\mybar{lavb}{1403}{1436.7}{912.7}{920.7}{pir2}{\textbf{PIR \#2}}
\mybar{lavb}{1470.8}{1504.3}{912.7}{920.7}{pir3}{\textbf{PIR \#3}}
\mybar{lavb}{1525.4}{1573}{912.7}{920.7}{pirc}{\textbf{Completion}}
\mkr{mim}{bluem}{303.6}{935}{MIM (Major Incident Management) Complete \textbf{22 Apr}}
\mkr{ccssc}{redm}{520.4}{935}{Contract Requirements for CSSC / SOW needs / COM cover - Complete \textbf{13 May}}
\mkl{l3}{bluem}{408}{952}{L3 Support for TS2 API's \textbf{1 May}}
\mkl{snl}{bluem}{408}{966.7}{ServiceNow Licences Ready for L3 Support \textbf{1 May}}
\mkr{bcpc}{bluem}{667.9}{954}{Business Continuity Planning Complete \textbf{27 May}}
\node[mc, fill=greenm] (srd) at (1091.8,942.3) {};
\node[mt, anchor=east, align=right] (srdt) at ([xshift=-6pt,yshift=1pt]srd.west) {Service Readiness\\Commences for TS3 \textbf{11 Jul}};
\mybar{lavb}{646.4}{1294.8}{970}{978.3}{kt1}{\textbf{Knowledge Transfer} TCS to UKLink // Gemini Consequential Changes [2 May – 29 Jul]}
\mybar{lavb}{579.3}{1294.8}{982.7}{991.7}{kt2}{\textbf{Knowledge Transfer} Dev/Ops and API/GES to Wipro enduring support team [25 Apr – 29 Jul]}
\mkr{ktc}{redm}{1294.8}{979.3}{Knowledge Transfer Complete \textbf{29 Jul}}

% ---------- critical path lines (behind) ----------
\begin{pgfonlayer}{back}
\coordinate (stend) at (921,1000);
\draw[crit] (status.south) -- (stend);
\coordinate (cpa) at (921,565);
\draw[crit] (cpa) -- (cpa -| odc.center);
\coordinate (cpb) at (1146,999);
\coordinate (cpc) at (1183,999);
\coordinate (cpd) at (1183,116);
\draw[crit] (oatcm.south) -- (cpb) -- (cpc);
\draw[crit, -{Triangle[length=6pt,width=5pt]}] (cpc) -- (cpd);
\end{pgfonlayer}
\end{tikzpicture}
\end{document}
